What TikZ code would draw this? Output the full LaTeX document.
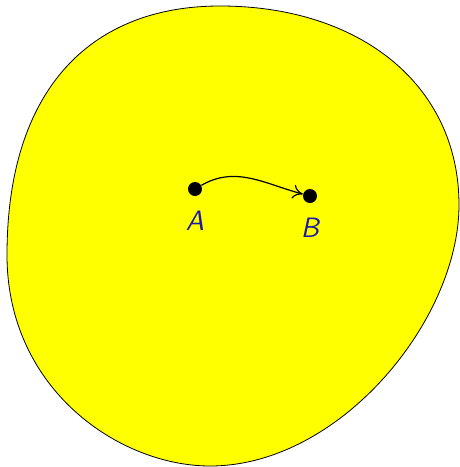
\documentclass[tikz,border=0pt]{standalone}
\usepackage{tikz}
\usetikzlibrary{arrows.meta, positioning}
\definecolor{labelblue}{RGB}{25,25,165}
\definecolor{regionyellow}{RGB}{255,255,0}

\begin{document}
\begin{tikzpicture}[
    x=0.5pt, y=-0.5pt,
    dot/.style={circle, fill=black, inner sep=0pt, minimum size=7pt},
    lbl/.style={text=labelblue, font=\fontsize{14}{16}\selectfont\sffamily\slshape},
    arrow/.style={-{To[length=5pt,width=7pt]}, semithick}
]
\useasboundingbox (0,0) rectangle (460,467);

% ---- region ----
\draw[fill=regionyellow, thin] (220,6)
    .. controls (360,6) and (459,85) .. (459,205)
    .. controls (459,320) and (340,466) .. (210,466)
    .. controls (120,466) and (7,390) .. (7,255)
    .. controls (7,90) and (90,6) .. cycle;

% ---- points ----
\node[dot] (a) at (195,189) {};
\node[dot] (b) at (310,196) {};
\node[lbl, below=4pt of a] (alabel) {A};
\node[lbl, below=4pt of b] (blabel) {B};

\draw[arrow] (a) to[out=30, in=165] (b);

\end{tikzpicture}
\end{document}
